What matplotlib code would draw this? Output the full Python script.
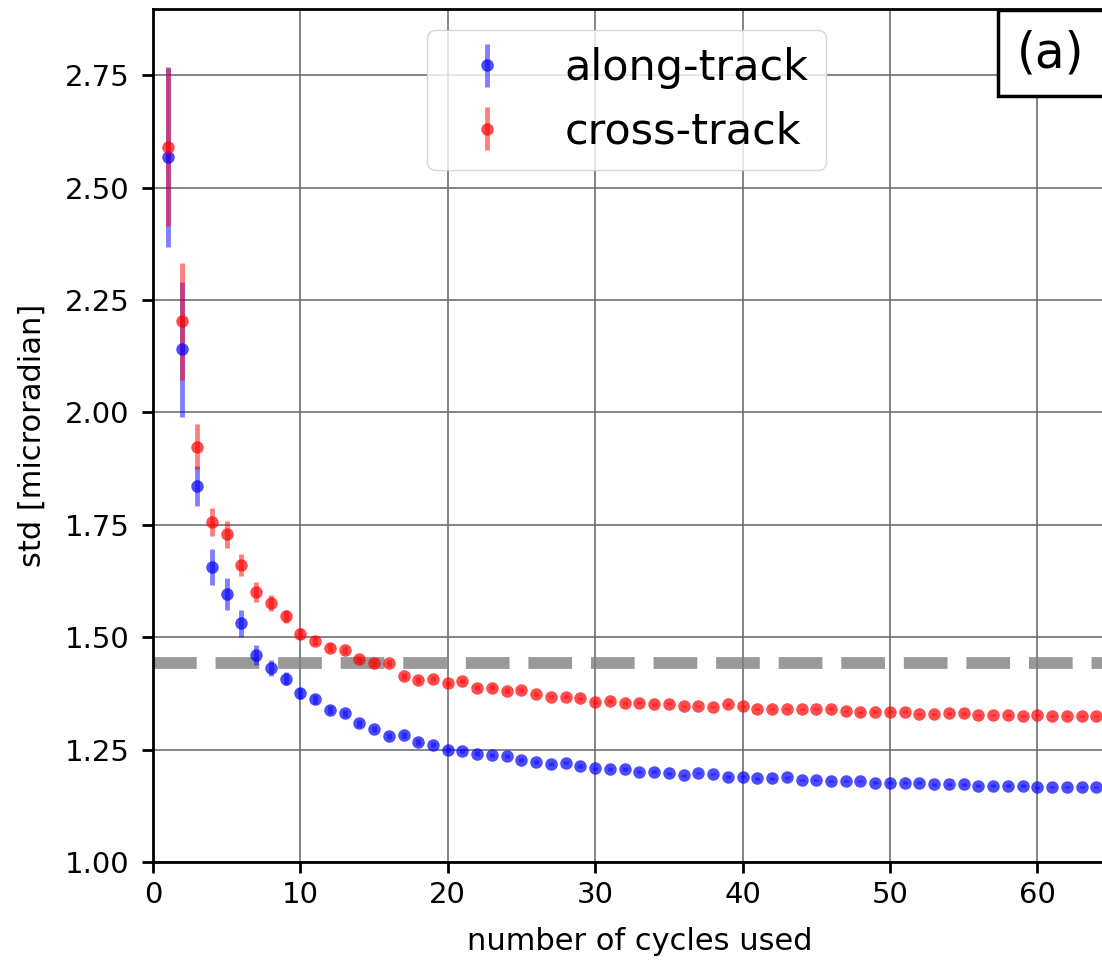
import matplotlib
matplotlib.use("Agg")
import matplotlib.pyplot as plt
import numpy as np

# number of cycles used
cycles = list(range(1, 65))

along_std = [2.568, 2.140, 1.836, 1.656, 1.596, 1.531, 1.461, 1.431, 1.408, 1.375,
             1.362, 1.338, 1.331, 1.308, 1.295, 1.280, 1.282, 1.267, 1.261, 1.250,
             1.247, 1.241, 1.238, 1.236, 1.227, 1.223, 1.218, 1.221, 1.214, 1.208,
             1.207, 1.207, 1.201, 1.201, 1.197, 1.193, 1.198, 1.196, 1.190, 1.190,
             1.186, 1.186, 1.188, 1.182, 1.182, 1.180, 1.180, 1.180, 1.176, 1.176,
             1.176, 1.176, 1.173, 1.173, 1.173, 1.170, 1.170, 1.170, 1.170, 1.166,
             1.167, 1.167, 1.167, 1.167]
along_err = [0.200, 0.150, 0.045, 0.040, 0.035, 0.030, 0.022, 0.018, 0.015, 0.012,
             0.010, 0.009, 0.008, 0.008, 0.007, 0.007, 0.006, 0.006, 0.006, 0.005,
             0.005, 0.005, 0.005, 0.005, 0.004, 0.004, 0.004, 0.004, 0.004, 0.004,
             0.004, 0.004, 0.003, 0.003, 0.003, 0.003, 0.003, 0.003, 0.003, 0.003,
             0.003, 0.003, 0.003, 0.003, 0.003, 0.003, 0.003, 0.003, 0.003, 0.003,
             0.003, 0.003, 0.003, 0.003, 0.003, 0.003, 0.003, 0.003, 0.003, 0.003,
             0.003, 0.003, 0.003, 0.003]

cross_std = [2.590, 2.203, 1.923, 1.756, 1.729, 1.660, 1.600, 1.576, 1.546, 1.508,
             1.492, 1.477, 1.471, 1.451, 1.443, 1.442, 1.414, 1.405, 1.408, 1.397,
             1.402, 1.388, 1.388, 1.381, 1.382, 1.374, 1.368, 1.368, 1.364, 1.356,
             1.358, 1.354, 1.354, 1.351, 1.352, 1.347, 1.347, 1.345, 1.351, 1.347,
             1.340, 1.340, 1.340, 1.340, 1.340, 1.341, 1.336, 1.333, 1.334, 1.334,
             1.334, 1.329, 1.329, 1.331, 1.331, 1.327, 1.327, 1.327, 1.325, 1.327,
             1.325, 1.325, 1.325, 1.325]
cross_err = [0.175, 0.130, 0.050, 0.032, 0.030, 0.025, 0.022, 0.018, 0.015, 0.012,
             0.010, 0.009, 0.008, 0.008, 0.007, 0.007, 0.006, 0.006, 0.006, 0.005,
             0.005, 0.005, 0.005, 0.005, 0.004, 0.004, 0.004, 0.004, 0.004, 0.004,
             0.004, 0.004, 0.003, 0.003, 0.003, 0.003, 0.003, 0.003, 0.003, 0.003,
             0.003, 0.003, 0.003, 0.003, 0.003, 0.003, 0.003, 0.003, 0.003, 0.003,
             0.003, 0.003, 0.003, 0.003, 0.003, 0.003, 0.003, 0.003, 0.003, 0.003,
             0.003, 0.003, 0.003, 0.003]

threshold = 1.443

fig = plt.figure(figsize=(11.02, 9.6), dpi=100)
ax = fig.add_axes([0.1388, 0.1021, 0.8828, 0.8885])

ax.errorbar(cycles, along_std, yerr=along_err, fmt='o', ms=9,
            mfc=(0, 0, 1, 0.7), mec=(0, 0, 1, 0.0), ecolor=(0, 0, 1, 0.5),
            elinewidth=3.5, label='along-track', zorder=3)
ax.errorbar(cycles, cross_std, yerr=cross_err, fmt='o', ms=9,
            mfc=(1, 0, 0, 0.7), mec=(1, 0, 0, 0.0), ecolor=(1, 0, 0, 0.5),
            elinewidth=3.5, label='cross-track', zorder=3)

ax.axhline(threshold, color='gray', alpha=0.8, lw=8.5, ls='--', zorder=2)

ax.set_xlim(0, 66)
ax.set_ylim(1.0, 2.897)
ax.set_xticks([0, 10, 20, 30, 40, 50, 60])
ax.set_yticks([1.00, 1.25, 1.50, 1.75, 2.00, 2.25, 2.50, 2.75])
ax.set_yticklabels(["%.2f" % v for v in ax.get_yticks()])

ax.grid(True, color='0.4', lw=1.4, alpha=0.8)
ax.set_axisbelow(True)
for s in ax.spines.values():
    s.set_linewidth(2)
ax.tick_params(labelsize=21, width=2, length=8)
ax.tick_params(axis='y', pad=9)
ax.tick_params(axis='x', pad=6)

ax.set_xlabel("number of cycles used", fontsize=22, labelpad=13)
ax.set_ylabel("std [microradian]", fontsize=22, labelpad=13)

ax.legend(fontsize=31, loc='upper left', bbox_to_anchor=(427 / 1102, 1 - 30 / 960),
          bbox_transform=fig.transFigure, borderaxespad=0)

fig.text(1017 / 1102, 1 - 53 / 960, "(a)", fontsize=35, ha='left', va='center',
         bbox=dict(boxstyle='square,pad=0.4', fc='white', ec='black', lw=2.5))

fig.savefig("out.png", dpi=100)
